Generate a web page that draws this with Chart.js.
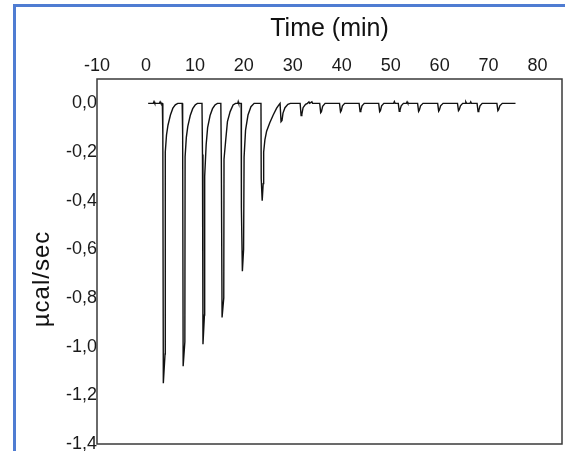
<!DOCTYPE html>
<html>
<head>
<meta charset="utf-8">
<script src="https://cdn.jsdelivr.net/npm/chart.js@4.4.1/dist/chart.umd.min.js"></script>
<style>
  html, body { margin: 0; padding: 0; background: #fff; overflow: hidden; }
  #wrap { position: relative; width: 565px; height: 451px; }
  #edge { position: absolute; left: 13px; top: 4px; width: 600px; height: 500px;
          border-left: 3px solid #4f7cd2; border-top: 3px solid #4f7cd2; }
  #thermo { position: absolute; left: 0; top: 0; }
</style>
</head>
<body>
<div id="wrap">
  <div id="edge"></div>
  <canvas id="thermo" width="565" height="451"></canvas>
</div>
<script>
// ITC raw heat signal, [time (min), µcal/sec]
var thermogram = [
    [0.45, 0], [1.5, 0], [1.65, 0.007], [1.8, 0], [2.75, 0], [2.9, 0.006], [3.05, 0],
    // injection 1
    [3.35, 0], [3.45, -0.13], [3.55, -1.15], [3.9, -1.03], [3.95, -0.2], [4.2, -0.13],
    [4.5, -0.09], [5.0, -0.048], [5.5, -0.02], [6.0, -0.006], [6.5, 0], [7.4, 0],
    // injection 2
    [7.5, -0.13], [7.6, -1.08], [7.95, -0.98], [8.0, -0.22], [8.25, -0.14], [8.55, -0.095],
    [9.05, -0.05], [9.55, -0.022], [10.05, -0.007], [10.5, 0], [11.45, 0],
    // injection 3
    [11.55, -0.21], [11.65, -0.99], [11.95, -0.87], [12.0, -0.3], [12.3, -0.17], [12.6, -0.1],
    [13.1, -0.05], [13.6, -0.022], [14.1, -0.007], [14.6, 0], [15.3, 0],
    // injection 4
    [15.4, -0.23], [15.55, -0.88], [15.9, -0.8], [15.95, -0.23], [16.3, -0.15], [16.65, -0.075],
    [17.2, -0.034], [17.8, -0.007], [18.3, 0], [18.75, 0], [18.85, 0.007], [18.95, 0], [19.45, 0],
    // injection 5
    [19.5, -0.43], [19.7, -0.69], [19.95, -0.6], [20.05, -0.22], [20.35, -0.11], [20.85, -0.048],
    [21.45, -0.014], [22.1, 0], [23.5, 0],
    // injection 6
    [23.55, -0.31], [23.75, -0.4], [23.95, -0.33], [24.05, -0.2], [24.3, -0.15], [24.65, -0.115],
    [25.3, -0.08], [26.0, -0.048], [26.7, -0.02], [27.2, -0.005], [27.4, 0],
    // injection 7
    [27.6, -0.075], [27.8, -0.07], [28.0, -0.04], [28.4, -0.018], [29.0, -0.004], [29.5, 0],
    // injection 8
    [31.5, 0], [31.7, -0.05], [31.85, -0.045], [32.1, -0.018], [32.6, -0.004], [33.0, 0],
    [33.3, 0.006], [33.45, 0], [33.9, 0.006], [34.05, 0],
    // injections 9 - 18
    [35.5, 0], [35.7, -0.038], [35.85, -0.034], [36.1, -0.012], [36.6, 0],
    [39.55, 0], [39.75, -0.035], [39.9, -0.03], [40.15, -0.01], [40.6, 0],
    [43.55, 0], [43.75, -0.034], [43.9, -0.03], [44.15, -0.01], [44.6, 0],
    [47.55, 0], [47.75, -0.034], [47.9, -0.03], [48.15, -0.01], [48.6, 0],
    [50.6, 0], [50.75, 0.007], [50.9, 0],
    [51.55, 0], [51.75, -0.033], [51.9, -0.028], [52.15, -0.01], [52.6, 0],
    [53.2, 0], [53.35, 0.006], [53.5, 0],
    [55.5, 0], [55.7, -0.033], [55.85, -0.028], [56.1, -0.01], [56.6, 0],
    [59.6, 0], [59.8, -0.032], [59.95, -0.027], [60.2, -0.01], [60.7, 0],
    [63.65, 0], [63.85, -0.03], [64.0, -0.026], [64.25, -0.01], [64.7, 0],
    [65.2, 0], [65.35, 0.006], [65.5, 0], [66.2, 0], [66.35, 0.006], [66.5, 0],
    [67.65, 0], [67.85, -0.034], [68.0, -0.03], [68.25, -0.01], [68.7, 0],
    [71.7, 0], [71.9, -0.03], [72.05, -0.026], [72.3, -0.01], [72.8, 0],
    [75.5, 0]
];

var xTicks = [-10, 0, 10, 20, 30, 40, 50, 60, 70, 80];
var yTicks = [0, -0.2, -0.4, -0.6, -0.8, -1.0, -1.2, -1.4];
var xTitle = 'Time (min)';
var yTitle = 'µcal/sec';

var fontFamily = '"Liberation Sans", Arial, sans-serif';

// box round the plot area
var frameBox = {
    id: 'frameBox',
    afterDatasetsDraw: function (chart) {
        var ctx = chart.ctx, a = chart.chartArea;
        ctx.save();
        ctx.strokeStyle = '#3a3a3a';
        ctx.lineWidth = 1.5;
        ctx.strokeRect(a.left, a.top, a.right - a.left, a.bottom - a.top);
        ctx.restore();
    }
};

// y title sits a bit lower than the middle of the axis in the picture
var yTitleText = {
    id: 'yTitleText',
    afterDraw: function (chart) {
        var ctx = chart.ctx;
        ctx.save();
        ctx.translate(48.5, 279);
        ctx.rotate(-Math.PI / 2);
        ctx.font = '24px ' + fontFamily;
        if ('letterSpacing' in ctx) ctx.letterSpacing = '1px';
        ctx.fillStyle = '#111';
        ctx.textAlign = 'center';
        ctx.textBaseline = 'alphabetic';
        ctx.fillText(yTitle, 0, 0);
        ctx.restore();
    }
};

var ctx = document.getElementById('thermo');
new Chart(ctx, {
    type: 'line',
    data: {
        datasets: [{
            data: thermogram.map(function (p) { return {x: p[0], y: p[1]}; }),
            borderColor: '#111',
            borderWidth: 1.4,
            pointRadius: 0,
            tension: 0,
            fill: false
        }]
    },
    options: {
        responsive: false,
        animation: false,
        layout: { padding: { left: 0, top: 0, right: 3, bottom: 7 } },
        plugins: { legend: { display: false }, tooltip: { enabled: false } },
        scales: {
            x: {
                type: 'linear',
                position: 'top',
                min: -10,
                max: 85,
                afterBuildTicks: function (s) { s.ticks = xTicks.map(function (v) { return {value: v}; }); },
                afterFit: function (s) { s.height = 79; s.paddingLeft = 0; s.paddingRight = 0; },
                grid: { display: false, drawTicks: false },
                border: { display: false },
                ticks: {
                    padding: 2,
                    color: '#1a1a1a',
                    font: { family: fontFamily, size: 18 },
                    maxRotation: 0,
                    autoSkip: false,
                    callback: function (v) { return String(v); }
                },
                title: {
                    display: true,
                    text: xTitle,
                    color: '#111',
                    padding: { top: 14, bottom: 0 },
                    font: { family: fontFamily, size: 25 }
                }
            },
            y: {
                type: 'linear',
                min: -1.4,
                max: 0.1,
                afterBuildTicks: function (s) { s.ticks = yTicks.map(function (v) { return {value: v}; }); },
                afterFit: function (s) { s.width = 97; s.paddingTop = 0; s.paddingBottom = 0; },
                grid: { display: false, drawTicks: false },
                border: { display: false },
                ticks: {
                    padding: 0,
                    color: '#1a1a1a',
                    font: { family: fontFamily, size: 18 },
                    autoSkip: false,
                    callback: function (v) {
                        if (Math.abs(v) < 1e-9) return '0,0';
                        return v.toFixed(1).replace('.', ',');
                    }
                }
            }
        }
    },
    plugins: [frameBox, yTitleText]
});
</script>
</body>
</html>
